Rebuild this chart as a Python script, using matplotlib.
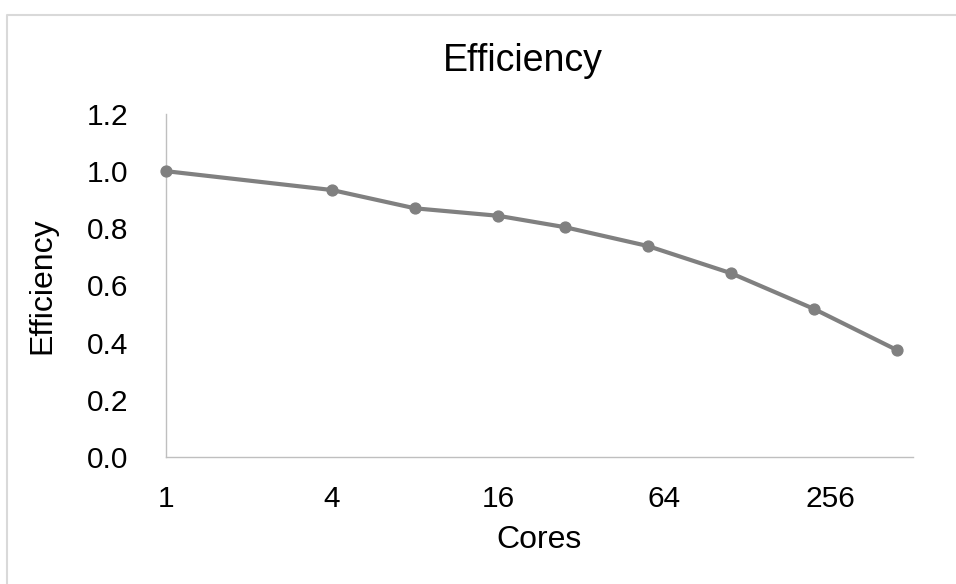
import matplotlib
matplotlib.use('Agg')
import matplotlib.pyplot as plt
from matplotlib.lines import Line2D

# data
cores = [1, 4, 8, 16, 28, 56, 112, 224, 448]
efficiency = [1.0, 0.934, 0.870, 0.844, 0.804, 0.738, 0.643, 0.518, 0.374]
x_ticks = [1, 4, 16, 64, 256]
x_tick_labels = ['1', '4', '16', '64', '256']
y_ticks = [0.0, 0.2, 0.4, 0.6, 0.8, 1.0, 1.2]

plt.rcParams['font.family'] = ['Liberation Sans', 'DejaVu Sans']

W, H = 956, 584
fig = plt.figure(figsize=(W / 100, H / 100), dpi=100)
ax = fig.add_axes([166 / W, 1 - 457 / H, (913 - 166) / W, (457 - 114) / H])

ax.plot(cores, efficiency, color='#808080', linewidth=3.0, marker='o',
        markersize=7.8, clip_on=False, zorder=3)

ax.set_xscale('log', base=2)
ax.set_xlim(1, 512)
ax.set_ylim(0, 1.2)
ax.set_xticks(x_ticks)
ax.set_xticklabels(x_tick_labels)
ax.minorticks_off()
ax.set_yticks(y_ticks)
ax.set_yticklabels(['%.1f' % v for v in y_ticks])
ax.tick_params(axis='both', length=0, labelsize=21.5, colors='black')
ax.tick_params(axis='y', pad=27)
ax.tick_params(axis='x', pad=20)

for s in ['top', 'right']:
    ax.spines[s].set_visible(False)
for s in ['left', 'bottom']:
    ax.spines[s].set_color('#bfbfbf')
    ax.spines[s].set_linewidth(1.0)

ax.set_xlabel('Cores', fontsize=23)
ax.xaxis.set_label_coords(0.5, (457 - 540) / 343)
ax.xaxis.label.set_va('center')
ax.set_ylabel('Efficiency', fontsize=23)
ax.yaxis.set_label_coords((42 - 166) / 747, 0.5)
ax.yaxis.label.set_va('center')

fig.text(523 / W, 1 - 70.7 / H, 'Efficiency', fontsize=27, ha='center', va='baseline')

# chart area border (only top and left visible)
fig.add_artist(Line2D([7 / W, 7 / W, 1], [0, 1 - 15 / H, 1 - 15 / H],
                      transform=fig.transFigure, color='#d9d9d9', linewidth=1.5))

fig.savefig('out.png', dpi=100)
